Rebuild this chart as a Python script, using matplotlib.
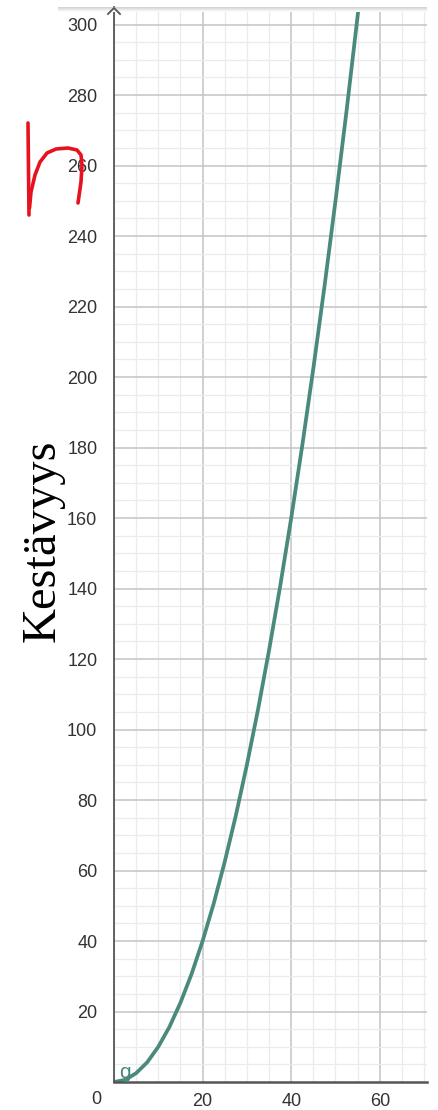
import matplotlib
matplotlib.use("Agg")
import matplotlib.pyplot as plt
import numpy as np
from matplotlib.ticker import MultipleLocator

# data
x_vals = [0, 2.5, 5, 7.5, 10, 12.5, 15, 17.5, 20, 22.5, 25, 27.5, 30, 32.5,
          35, 37.5, 40, 42.5, 45, 47.5, 50, 52.5, 55, 56]
y_vals = [0, 0.6, 2.5, 5.6, 10, 15.6, 22.5, 30.6, 40, 50.6, 62.5, 75.6, 90,
          105.6, 122.5, 140.6, 160, 180.6, 202.5, 225.6, 250, 275.6, 302.5, 313.6]
x_ticks = [20, 40, 60]
x_tick_labels = ["20", "40", "60"]
y_ticks = [20, 40, 60, 80, 100, 120, 140, 160, 180, 200, 220, 240, 260, 280, 300]
y_tick_labels = [str(v) for v in y_ticks]
y_label = "Kestävyys"
curve_label = "g"

# hand-drawn red mark (figure pixel coords)
scribble_a = [(28, 123), (28.5, 170), (29, 215)]
scribble_b = [(29.5, 208), (31, 192), (35, 175), (40, 162), (47, 153), (56, 149),
              (68, 148), (77, 150), (81, 155), (82, 165), (81, 182), (79, 196), (78, 203)]

W, H = 438, 1110
fig = plt.figure(figsize=(W / 100, H / 100), dpi=100)
fig.patch.set_facecolor("white")

L, R, T, B = 114, 427, 7, 1082
ax = fig.add_axes([L / W, 1 - B / H, (R - L) / W, (B - T) / H])
ax.set_xlim(0, (R - L) / 4.43)
ax.set_ylim(0, 305)

teal = "#4a8a7c"
ax.plot(x_vals, y_vals, color=teal, lw=2.7, solid_capstyle="round", zorder=3, clip_on=True)

ax.xaxis.set_major_locator(MultipleLocator(20))
ax.xaxis.set_minor_locator(MultipleLocator(5))
ax.yaxis.set_major_locator(MultipleLocator(20))
ax.yaxis.set_minor_locator(MultipleLocator(5))
ax.grid(which="minor", color="#ebebeb", lw=0.9, zorder=0)
ax.grid(which="major", color="#c4c4c4", lw=1.1, zorder=1)
ax.set_axisbelow(True)

ax.set_xticks(x_ticks)
ax.set_xticklabels(x_tick_labels)
ax.set_yticks(y_ticks)
ax.set_yticklabels(y_tick_labels)
ax.tick_params(which="both", length=0)
ax.tick_params(axis="y", pad=12, labelsize=13, labelcolor="#333333")
ax.tick_params(axis="x", pad=8, labelsize=13, labelcolor="#333333")
for lab in ax.get_xticklabels() + ax.get_yticklabels():
    lab.set_fontfamily("Liberation Sans")

for s in ["top", "right"]:
    ax.spines[s].set_visible(False)
ax.spines["left"].set_color("#555555")
ax.spines["left"].set_linewidth(1.3)
ax.spines["bottom"].set_color("#555555")
ax.spines["bottom"].set_linewidth(1.8)
ax.spines["left"].set_zorder(4)
ax.spines["bottom"].set_zorder(4)

def fp(px, py):
    return px / W, 1 - py / H

# arrow head on y axis
ax_arrow = [fp(108, 14), fp(114, 8), fp(120, 14)]
fig.add_artist(plt.Line2D([p[0] for p in ax_arrow], [p[1] for p in ax_arrow],
                          transform=fig.transFigure, color="#555555", lw=1.3))

# top toolbar shadow
sh = fig.add_axes([58 / W, 1 - 12 / H, (R - 58) / W, 5 / H])
grad = np.linspace(0.82, 1.0, 20).reshape(-1, 1)
sh.imshow(grad, aspect="auto", cmap="gray", vmin=0, vmax=1, extent=[0, 1, 0, 1])
sh.set_axis_off()

# origin label
fig.text(*fp(96, 1099), "0", ha="center", va="center", fontsize=13,
         color="#333333", family="Liberation Sans")

# curve label
fig.text(*fp(125, 1073), curve_label, color=teal, fontsize=15, ha="center",
         va="center", family="Liberation Sans", zorder=10)

# y label
fig.text(*fp(43, 541), y_label, rotation=90, ha="center", va="center",
         fontsize=35, family="Liberation Serif", color="black")

# red scribble
for stroke in (scribble_a, scribble_b):
    pts = [fp(*p) for p in stroke]
    fig.add_artist(plt.Line2D([p[0] for p in pts], [p[1] for p in pts],
                              transform=fig.transFigure, color="#e8121f", lw=2.6,
                              solid_capstyle="round", solid_joinstyle="round"))

fig.savefig("out.png", dpi=100)
